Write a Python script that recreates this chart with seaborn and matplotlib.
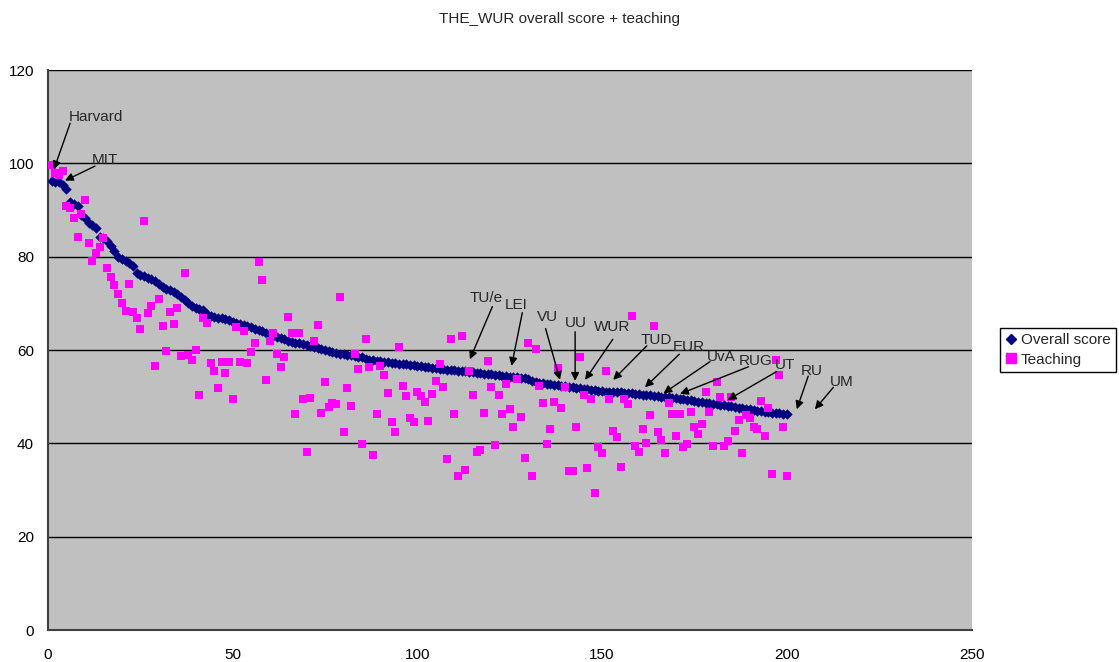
import numpy as np
import pandas as pd
import matplotlib
matplotlib.use("Agg")
import matplotlib.pyplot as plt
from matplotlib.lines import Line2D
import seaborn as sns

# Overall score per ranked university (rank 1 .. 200)
overall_score = [
    96.3, 96.1, 95.9, 95.3, 94.5, 91.8, 91.3, 90.8, 89.0, 88.2,
    87.3, 86.8, 86.1, 84.3, 84.0, 83.4, 82.2, 81.3, 79.9, 79.4,
    79.1, 78.6, 77.9, 76.6, 76.1, 75.8, 75.5, 75.2, 74.8, 74.2,
    73.4, 73.0, 72.8, 72.5, 72.1, 71.4, 70.8, 70.0, 69.4, 69.1,
    68.8, 68.5, 67.8, 67.2, 67.0, 66.9, 66.8, 66.6, 66.4, 66.1,
    65.8, 65.5, 65.3, 65.1, 64.9, 64.6, 64.3, 64.0, 63.6, 63.3,
    63.0, 62.7, 62.5, 62.3, 62.0, 61.8, 61.6, 61.4, 61.2, 61.0,
    60.8, 60.6, 60.4, 60.2, 59.9, 59.7, 59.5, 59.4, 59.2, 59.1,
    59.0, 58.9, 58.8, 58.6, 58.4, 58.1, 57.9, 57.8, 57.7, 57.6,
    57.5, 57.4, 57.3, 57.2, 57.1, 57.0, 56.9, 56.8, 56.7, 56.6,
    56.5, 56.4, 56.3, 56.2, 56.1, 56.0, 55.9, 55.8, 55.8, 55.7,
    55.6, 55.5, 55.4, 55.3, 55.2, 55.1, 55.0, 54.9, 54.9, 54.8,
    54.7, 54.6, 54.5, 54.4, 54.3, 54.3, 54.2, 54.1, 54.0, 53.7,
    53.4, 53.2, 53.0, 52.9, 52.8, 52.7, 52.5, 52.4, 52.3, 52.2,
    52.1, 52.0, 51.9, 51.8, 51.7, 51.6, 51.5, 51.4, 51.3, 51.2,
    51.1, 51.0, 51.0, 50.9, 50.9, 50.8, 50.8, 50.7, 50.6, 50.5,
    50.4, 50.3, 50.3, 50.2, 50.1, 50.0, 50.0, 49.9, 49.8, 49.7,
    49.6, 49.5, 49.3, 49.2, 49.1, 48.9, 48.8, 48.7, 48.6, 48.5,
    48.4, 48.3, 48.2, 48.1, 47.9, 47.8, 47.6, 47.5, 47.4, 47.3,
    47.2, 47.0, 46.9, 46.8, 46.7, 46.6, 46.5, 46.4, 46.3, 46.2,
]

# Teaching score for the same universities
teaching = [
    99.6, 98.0, 97.6, 98.4, 90.9, 90.4, 88.2, 84.3, 89.1, 92.1,
    83.0, 79.1, 80.7, 82.1, 83.9, 77.5, 75.7, 73.9, 72.0, 70.1,
    68.4, 74.1, 68.2, 66.8, 64.5, 87.6, 67.9, 69.4, 56.6, 70.9,
    65.1, 59.8, 68.1, 65.5, 68.9, 58.7, 76.4, 58.9, 57.9, 59.9,
    50.4, 66.8, 65.7, 57.3, 55.5, 51.9, 57.4, 55.0, 57.5, 49.4,
    64.9, 57.5, 64.1, 57.3, 59.6, 61.4, 78.8, 74.9, 53.6, 62.0,
    63.6, 59.1, 56.4, 58.4, 67.1, 63.6, 46.3, 63.6, 49.5, 38.2,
    49.8, 62.0, 65.4, 46.4, 53.1, 47.7, 48.6, 48.4, 71.3, 42.4,
    51.8, 47.9, 59.1, 55.9, 39.8, 62.4, 56.4, 37.6, 46.2, 56.6,
    54.6, 50.7, 44.6, 42.4, 60.6, 52.3, 50.1, 45.4, 44.6, 51.1,
    50.1, 48.9, 44.8, 50.5, 53.4, 57.0, 52.1, 36.6, 62.3, 46.3,
    32.9, 62.9, 34.3, 55.5, 50.3, 38.2, 38.6, 46.6, 57.6, 52.1,
    39.6, 50.3, 46.3, 52.7, 47.3, 43.4, 53.7, 45.6, 36.9, 61.6,
    32.9, 60.2, 52.3, 48.6, 39.9, 43.1, 48.9, 56.1, 47.6, 52.0,
    34.1, 34.1, 43.4, 58.4, 50.3, 34.8, 49.5, 29.4, 39.3, 37.9,
    55.5, 49.4, 42.7, 41.3, 35.0, 49.4, 48.4, 67.3, 39.4, 38.2,
    43.0, 40.0, 46.1, 65.1, 42.5, 40.7, 38.0, 48.7, 46.2, 41.6,
    46.2, 39.3, 39.9, 46.8, 43.6, 42.0, 44.1, 50.9, 46.8, 39.4,
    53.2, 50.0, 39.4, 40.4, 50.0, 42.6, 45.0, 37.9, 46.1, 45.4,
    43.6, 43.0, 49.1, 41.6, 47.5, 33.4, 57.9, 54.6, 43.4, 32.9,
]

series_names = ["Overall score", "Teaching"]
x_ticks = [0, 50, 100, 150, 200, 250]
y_ticks = [0, 20, 40, 60, 80, 100, 120]

# Callout labels: text anchor, arrow start, arrow tip (data coordinates)
callouts = [
    ("Harvard", (5.5, 110.0), (6.0, 108.6), (1.6, 98.7)),
    ("MIT", (11.8, 100.7), (12.7, 99.4), (4.6, 96.3)),
    ("TU/e", (114.2, 71.1), (120.3, 69.3), (114.2, 58.0)),
    ("LEI", (123.7, 69.6), (128.4, 68.0), (125.5, 56.6)),
    ("VU", (132.3, 67.0), (134.7, 64.6), (138.6, 53.6)),
    ("UU", (139.8, 65.7), (142.7, 63.9), (142.7, 53.4)),
    ("WUR", (147.8, 64.9), (152.9, 62.3), (145.4, 53.6)),
    ("TUD", (160.3, 62.1), (162.1, 60.9), (153.0, 53.6)),
    ("EUR", (169.1, 60.6), (170.9, 59.1), (161.6, 52.0)),
    ("UvA", (178.3, 58.6), (179.2, 57.5), (166.6, 50.7)),
    ("RUG", (186.9, 57.7), (189.6, 56.4), (171.1, 50.6)),
    ("UT", (196.8, 56.8), (197.3, 55.4), (184.0, 49.3)),
    ("RU", (203.8, 55.6), (205.8, 54.4), (202.7, 47.3)),
    ("UM", (211.7, 53.2), (212.6, 52.0), (207.6, 47.3)),
]

rank = np.arange(1, len(overall_score) + 1)
df = pd.DataFrame({
    "rank": np.concatenate([rank, rank]),
    "score": overall_score + teaching,
    "series": [series_names[0]] * len(overall_score) + [series_names[1]] * len(teaching),
})

sns.set_style("white")
plt.rcParams["font.family"] = ["Liberation Sans", "DejaVu Sans"]

navy = "#000080"
magenta = "#FF00FF"

fig = plt.figure(figsize=(11.19, 6.62), dpi=100)
ax = fig.add_axes([48 / 1119, 32 / 662, 923.5 / 1119, 560 / 662])
ax.set_facecolor("#C0C0C0")

sns.scatterplot(data=df[df["series"] == series_names[0]], x="rank", y="score",
                marker="D", color=navy, s=28, linewidth=0, ax=ax, zorder=3,
                legend=False)
sns.scatterplot(data=df[df["series"] == series_names[1]], x="rank", y="score",
                marker="s", color=magenta, s=40, linewidth=0, ax=ax, zorder=4,
                legend=False)

ax.set_xlim(0, 250)
ax.set_ylim(0, 120)
ax.set_xticks(x_ticks)
ax.set_yticks(y_ticks)
ax.set_xlabel("")
ax.set_ylabel("")

for yv in y_ticks[1:]:
    ax.axhline(yv, color="black", lw=1.0, zorder=1)

for side in ["top", "right"]:
    ax.spines[side].set_visible(False)
for side in ["left", "bottom"]:
    ax.spines[side].set_color("#404040")
    ax.spines[side].set_linewidth(1.5)
ax.tick_params(axis="both", direction="out", length=4, width=1, color="#404040",
               labelsize=11, labelcolor="black")
ax.tick_params(axis="x", pad=9)
ax.tick_params(axis="y", pad=6)

for name, txt, start, tip in callouts:
    ax.text(txt[0], txt[1], name, ha="left", va="center", fontsize=11, zorder=6)
    ax.annotate("", xy=tip, xytext=start,
                arrowprops=dict(arrowstyle="-|>", color="black", lw=1,
                                shrinkA=0, shrinkB=0, mutation_scale=12),
                zorder=6)

fig.suptitle("THE_WUR overall score + teaching", x=0.5, y=1 - 19 / 662,
             va="center", fontsize=11)

handles = [
    Line2D([], [], marker="D", color=navy, linestyle="none", markersize=5),
    Line2D([], [], marker="s", color=magenta, linestyle="none", markersize=7),
]
leg = fig.legend(handles, series_names, loc="center left",
                 bbox_to_anchor=(1000 / 1119, 1 - 350 / 662),
                 bbox_transform=fig.transFigure, fontsize=11, frameon=True,
                 fancybox=False, shadow=False, framealpha=1, edgecolor="black",
                 handlelength=0.7, handletextpad=0.3, borderpad=0.35,
                 labelspacing=0.35, borderaxespad=0)
leg.get_frame().set_linewidth(1.0)

fig.savefig("out.png", dpi=100)
